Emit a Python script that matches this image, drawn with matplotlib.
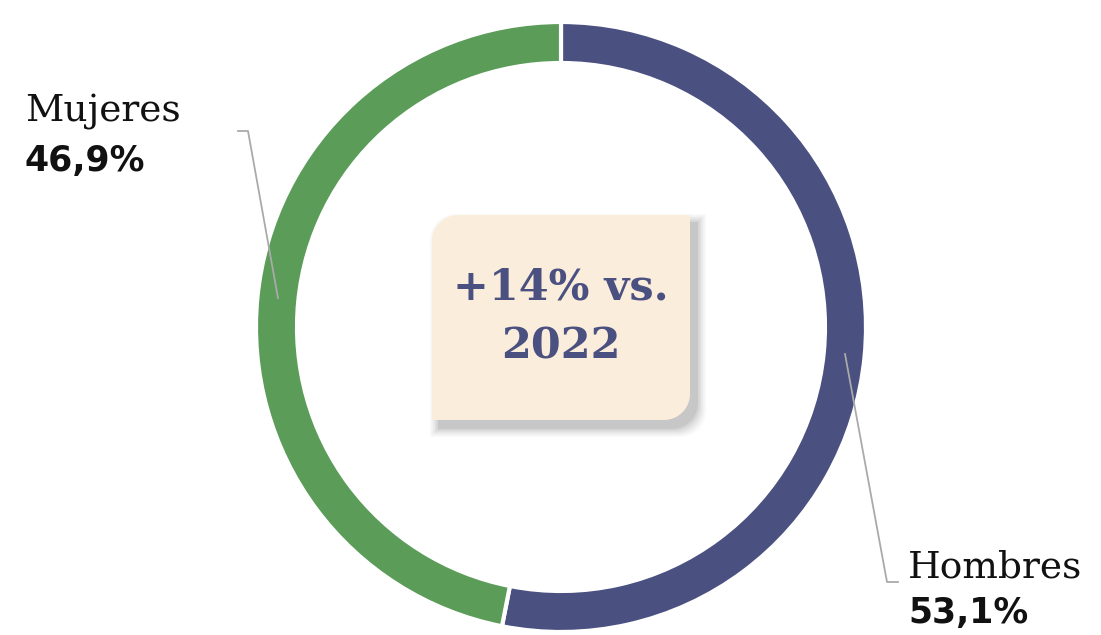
import numpy as np
import matplotlib
matplotlib.use("Agg")
import matplotlib.pyplot as plt
from matplotlib.patches import Polygon

labels = ["Hombres", "Mujeres"]
shares = [53.1, 46.9]
share_txt = ["53,1%", "46,9%"]
colors = ["#4a5080", "#5a9c58"]
center_txt = "+14% vs.\n2022"

W, H = 1101, 635
fig = plt.figure(figsize=(W / 100, H / 100), dpi=100)
ax = fig.add_axes([0, 0, 1, 1])
ax.set_xlim(0, W)
ax.set_ylim(0, H)
ax.set_aspect("equal")
ax.axis("off")


def Y(y):
    # pixel row -> data y
    return H - y


cx, cy, R = 561, Y(327), 305
ax.pie(shares, colors=colors, center=(cx, cy), radius=R, startangle=90,
       counterclock=False,
       wedgeprops=dict(width=41, edgecolor="white", linewidth=3))
ax.set_xlim(0, W)
ax.set_ylim(0, H)


def box_shape(x0, y0, x1, y1, r):
    # rounded top-left and bottom-right corners only
    pts = []
    t = np.linspace(np.pi, np.pi / 2, 12)
    pts += [(x0 + r + r * np.cos(a), y1 - r + r * np.sin(a)) for a in t]
    pts.append((x1, y1))
    t = np.linspace(0, -np.pi / 2, 12)
    pts += [(x1 - r + r * np.cos(a), y0 + r + r * np.sin(a)) for a in t]
    pts.append((x0, y0))
    return pts


bx0, bx1, by0, by1 = 432, 690, Y(420), Y(215)
for i, a in enumerate([0.03, 0.04, 0.05, 0.06, 0.08, 0.10]):
    g = 9 - i * 1.6
    ax.add_patch(Polygon(box_shape(bx0 + 7 - g, by0 - 8 - g, bx1 + 7 + g, by1 - 8 + g, 26),
                         closed=True, facecolor="#555555", edgecolor="none",
                         alpha=a, zorder=3))
ax.add_patch(Polygon(box_shape(bx0, by0, bx1, by1, 26), closed=True,
                     facecolor="#fbeddb", edgecolor="none", zorder=4))
ax.text((bx0 + bx1) / 2, Y(317), center_txt, ha="center", va="center",
        fontsize=31, fontweight="bold", family="DejaVu Serif",
        color="#4a5080", linespacing=1.5, zorder=5)

# leader lines
lc = "#aaaaaa"
ax.plot([238, 248, 278], [Y(131), Y(131), Y(298)], color=lc, lw=1.3, zorder=6)
ax.plot([845, 887, 898], [Y(354), Y(582), Y(582)], color=lc, lw=1.3, zorder=6)

# labels
ax.text(25, Y(121), labels[1], fontsize=27, family="DejaVu Serif", color="#111111")
ax.text(25, Y(171), share_txt[1], fontsize=25, fontweight="bold",
        family="DejaVu Sans", color="#111111")
ax.text(908, Y(578), labels[0], fontsize=27, family="DejaVu Serif", color="#111111")
ax.text(908, Y(623), share_txt[0], fontsize=25, fontweight="bold",
        family="DejaVu Sans", color="#111111")

fig.savefig("out.png", dpi=100, facecolor="white")
